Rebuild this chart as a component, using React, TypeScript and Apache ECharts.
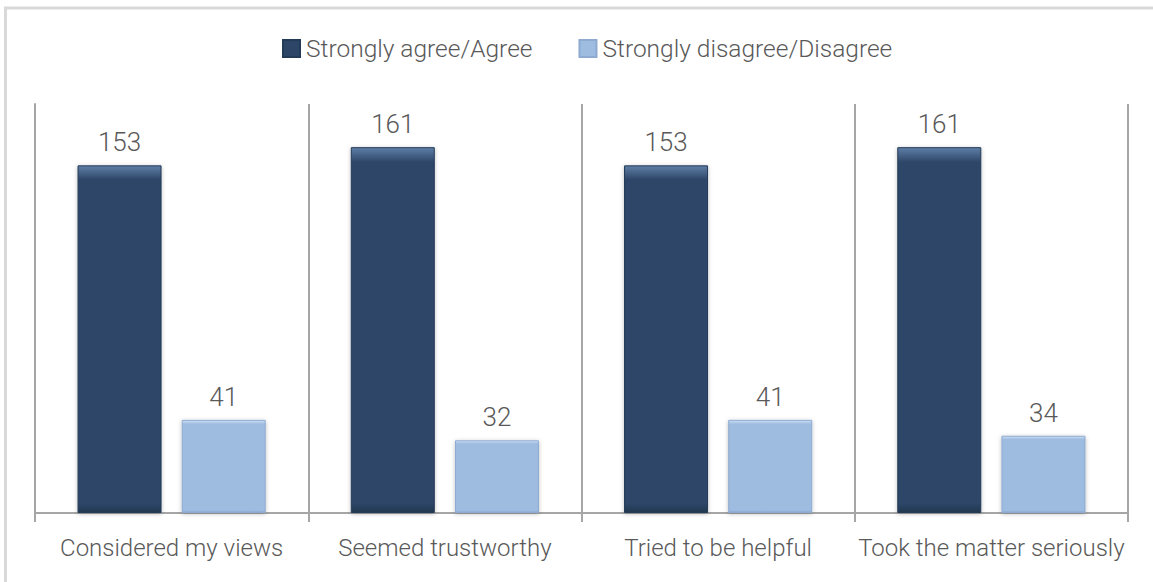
import React, { useEffect, useRef } from "react";
import * as echarts from "echarts";

const categories = [
  "Considered my views",
  "Seemed trustworthy",
  "Tried to be helpful",
  "Took the matter seriously",
];
const agreeValues = [153, 161, 153, 161];
const disagreeValues = [41, 32, 41, 34];
const seriesNames = ["Strongly agree/Agree", "Strongly disagree/Disagree"];

const FONT = "Roboto, 'Liberation Sans', sans-serif";
const FS = 24;
const FW = 300;
const TEXT = "#595959";
const LINE = "#a6a6a6";

function bevel(top: string, main: string, bottom: string) {
  return new echarts.graphic.LinearGradient(0, 0, 0, 1, [
    { offset: 0, color: top },
    { offset: 0.04, color: main },
    { offset: 0.975, color: main },
    { offset: 1, color: bottom },
  ]);
}

export default function App() {
  const ref = useRef<HTMLDivElement>(null);
  useEffect(() => {
    document.body.style.margin = "0";
    const chart = echarts.init(ref.current!, undefined, { renderer: "svg" });
    const label = {
      show: true,
      position: "top",
      distance: 10,
      fontFamily: FONT,
      fontSize: FS + 2,
      fontWeight: FW,
      color: TEXT,
    };
    chart.setOption({
      animation: false,
      backgroundColor: "#ffffff",
      graphic: [
        {
          type: "rect",
          shape: { x: 5.5, y: 8, width: 1170, height: 600 },
          style: { fill: "none", stroke: "#d9d9d9", lineWidth: 3 },
          silent: true,
          z: 0,
        },
      ],
      legend: {
        top: 36,
        left: 282,
        padding: 0,
        itemWidth: 17,
        itemHeight: 17,
        itemGap: 46,
        icon: "rect",
        textStyle: { fontFamily: FONT, fontSize: 24.5, fontWeight: FW, color: TEXT, padding: [0, 0, 0, 1] },
        data: seriesNames,
      },
      grid: { left: 35, right: 25, top: 104, bottom: 69 },
      xAxis: {
        type: "category",
        data: categories,
        axisLine: { show: true, lineStyle: { color: LINE, width: 2 } },
        axisTick: { show: true, length: 9, lineStyle: { color: LINE, width: 2 } },
        splitLine: {
          show: true,
          showMinLine: true,
          showMaxLine: true,
          lineStyle: { color: LINE, width: 2 },
        },
        axisLabel: {
          fontFamily: FONT,
          fontSize: FS,
          fontWeight: FW,
          color: TEXT,
          margin: 23,
          interval: 0,
        },
      },
      yAxis: {
        type: "value",
        min: 0,
        max: 180,
        axisLine: { show: true, lineStyle: { color: LINE, width: 2 } },
        axisTick: { show: false },
        axisLabel: { show: false },
        splitLine: { show: false },
      },
      series: [
        {
          name: seriesNames[0],
          type: "bar",
          data: agreeValues,
          barWidth: 84,
          barGap: "24%",
          itemStyle: {
            color: bevel("#5f7ea6", "#2d4668", "#22384f"),
            borderColor: "#243b57",
            borderWidth: 1,
            shadowBlur: 4,
            shadowOffsetY: 1,
            shadowColor: "rgba(0,0,0,0.25)",
          },
          label,
        },
        {
          name: seriesNames[1],
          type: "bar",
          data: disagreeValues,
          barWidth: 84,
          itemStyle: {
            color: bevel("#d0e1f5", "#9ebbe0", "#86a6cf"),
            borderColor: "#8eaad0",
            borderWidth: 1,
            shadowBlur: 4,
            shadowOffsetY: 1,
            shadowColor: "rgba(0,0,0,0.25)",
          },
          label,
        },
      ],
    });
    return () => chart.dispose();
  }, []);
  return <div ref={ref} style={{ width: 1153, height: 582 }} />;
}
